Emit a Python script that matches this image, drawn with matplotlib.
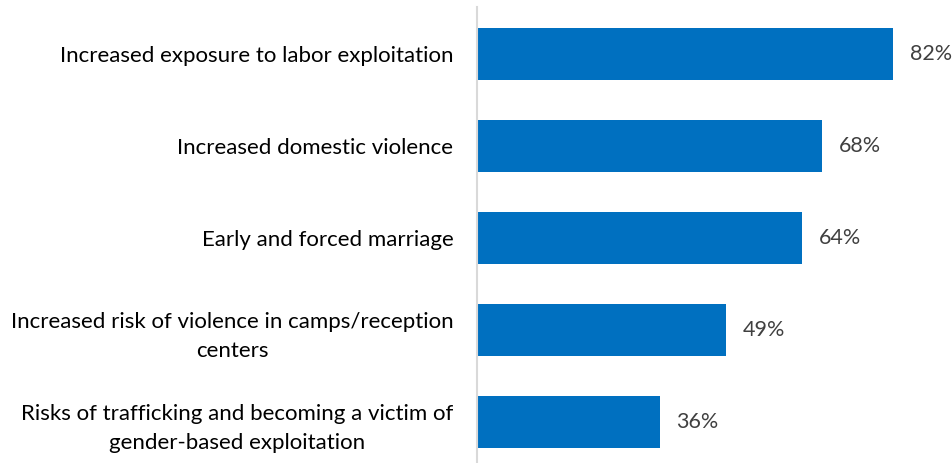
import matplotlib
matplotlib.use("Agg")
import matplotlib.pyplot as plt

categories = [
    "Increased exposure to labor exploitation",
    "Increased domestic violence",
    "Early and forced marriage",
    "Increased risk of violence in camps/reception\ncenters",
    "Risks of trafficking and becoming a victim of\ngender-based exploitation",
]
values = [82, 68, 64, 49, 36]
value_labels = ["82%", "68%", "64%", "49%", "36%"]

plt.rcParams["font.family"] = ["Lato", "DejaVu Sans"]

W, H = 953, 463
fig = plt.figure(figsize=(W / 100, H / 100), dpi=100)
ax = fig.add_axes([477 / W, 0, 472 / W, (463 - 7.3) / H])

y = list(range(len(categories)))
ax.barh(y, values, height=0.57, color="#0070C0", zorder=2)

ax.set_xlim(0, 93)
ax.set_ylim(4.443, -0.507)

for yi, v, lab in zip(y, values, value_labels):
    ax.annotate(lab, xy=(v, yi), xytext=(12, 0), textcoords="offset points",
                ha="left", va="center", fontsize=15.5, color="#404040")

ax.set_yticks(y)
ax.set_yticklabels(categories, fontsize=16, color="#000000",
                   multialignment="center", linespacing=1.55)
ax.tick_params(axis="y", length=0, pad=17)
ax.set_xticks([])

for s in ["top", "right", "bottom"]:
    ax.spines[s].set_visible(False)
ax.spines["left"].set_color("#D9D9D9")
ax.spines["left"].set_linewidth(1.5)

fig.savefig("out.png", dpi=100)
